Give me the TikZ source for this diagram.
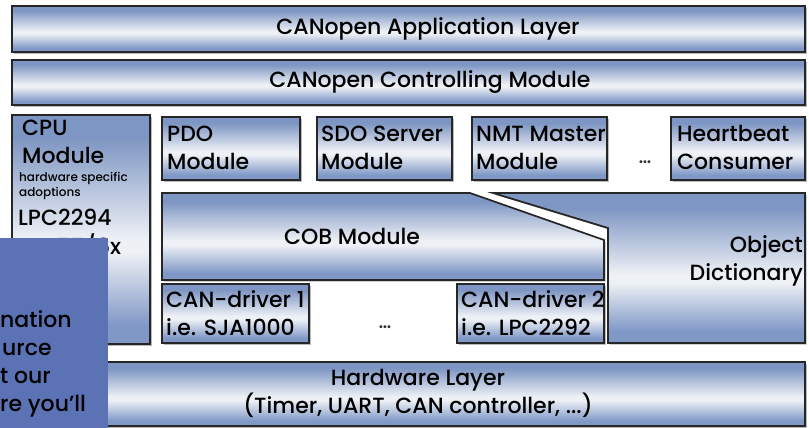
\documentclass[tikz,border=0pt]{standalone}
\usepackage{fontspec}
\setmainfont{Poppins}[UprightFont={* Medium}]
\usetikzlibrary{shadows,fit}
\definecolor{sbluetop}{HTML}{7E96C3}
\definecolor{sbluebot}{HTML}{7F98C6}
\definecolor{swhite}{HTML}{EDF0F5}
\definecolor{edgec}{HTML}{262626}
\definecolor{overlayc}{HTML}{5B72B4}
\pgfdeclareverticalshading{steel}{100bp}{color(0bp)=(sbluebot); color(25bp)=(sbluebot); color(29bp)=(sbluebot); color(45bp)=(swhite); color(48bp)=(swhite); color(70bp)=(sbluetop); color(75bp)=(sbluetop); color(100bp)=(sbluetop)}
\begin{document}
\begin{tikzpicture}[x=1pt,y=-1pt,
  panel/.style={draw=edgec, line width=1.7pt, shading=steel, inner sep=0pt,
    drop shadow={shadow xshift=1.6pt, shadow yshift=-1.6pt, opacity=0.55}},
  lbl/.style={font=\fontsize{22}{28}\selectfont, text=black, inner sep=0pt, align=left},
  small/.style={font=\fontsize{12}{15}\selectfont, text=black, inner sep=0pt, align=left},
  dots/.style={font=\fontsize{20}{20}\selectfont, text=black!80, inner sep=0pt}
]
\useasboundingbox[fill=white] (0,0) rectangle (809,428);

% layers
\node[panel, fit={(12,6) (805,52)}] (app) {};
\node[lbl] (appt) at (428,29) {CANopen Application Layer};
\node[panel, fit={(12,60) (805,105)}] (ctrl) {};
\node[lbl] (ctrlt) at (430,82) {CANopen Controlling Module};

% CPU module
\node[panel, fit={(12,115) (150,344)}] (cpu) {};
\node[lbl, anchor=west] (cput) at (22,142) {CPU\\Module};
\node[small, anchor=west] (cpus) at (19,185.5) {hardware specific\\adoptions};
\node[lbl, anchor=west] (lpc) at (18,217) {LPC2294};
\node[lbl, anchor=west] (mc) at (20,246) {MC55/6x};

% service modules
\node[panel, fit={(162,117) (300,180)}] (pdo) {};
\node[lbl, anchor=west] (pdot) at (167,147.5) {PDO\\Module};
\node[panel, fit={(317,117) (452,180)}] (sdo) {};
\node[lbl, anchor=west] (sdot) at (321,147.5) {SDO Server\\Module};
\node[panel, fit={(472,117) (607,180)}] (nmt) {};
\node[lbl, anchor=west] (nmtt) at (476,147.5) {NMT Master\\Module};
\node[dots] (dots1) at (645,162) {\dots};
\node[panel, fit={(671,117) (805,180)}] (hb) {};
\node[lbl, anchor=west] (hbt) at (677,147.5) {Heartbeat\\Consumer};

% COB module
\path[draw=edgec, line width=1.7pt, shading=steel,
  drop shadow={shadow xshift=1.6pt, shadow yshift=-1.6pt, opacity=0.55}]
  (162,193) -- (470,193) -- (604,240) -- (604,280) -- (162,280) -- cycle;
\node[lbl] (cobt) at (352,236) {COB Module};

% Object dictionary
\path[draw=edgec, line width=1.7pt, shading=steel,
  drop shadow={shadow xshift=1.6pt, shadow yshift=-1.6pt, opacity=0.55}]
  (493,193) -- (805,193) -- (805,343) -- (608,343) -- (608,228) -- cycle;
\node[lbl, align=right, anchor=east] (odt) at (803,261) {Object\\Dictionary};

% CAN drivers
\node[panel, fit={(162,284) (309,343)}] (can1) {};
\node[lbl, anchor=west] (can1t) at (166,313) {CAN-driver 1\\i.e. SJA1000};
\node[dots] (dots2) at (385,327) {\dots};
\node[panel, fit={(457,284) (604,343)}] (can2) {};
\node[lbl, anchor=west] (can2t) at (461,313) {CAN-driver 2\\i.e. LPC2292};

% hardware layer
\node[panel, fit={(12,362) (805,426)}] (hw) {};
\node[lbl, align=center] (hwt) at (418,393) {Hardware Layer\\(Timer, UART, CAN controller, ...)};

% overlay fragment
\node[fill=overlayc, inner sep=0pt, fit={(0,238) (108,428)}] (ov) {};
\begin{scope}
\clip (0,238) rectangle (108,428);
\node[lbl, anchor=base west] (ov1) at (0,327) {nation};
\node[lbl, anchor=base west] (ov2) at (2,355) {urce};
\node[lbl, anchor=base west] (ov3) at (0,383) {t our};
\node[lbl, anchor=base west] (ov4) at (0,411) {re you’ll};
\end{scope}
\end{tikzpicture}
\end{document}
